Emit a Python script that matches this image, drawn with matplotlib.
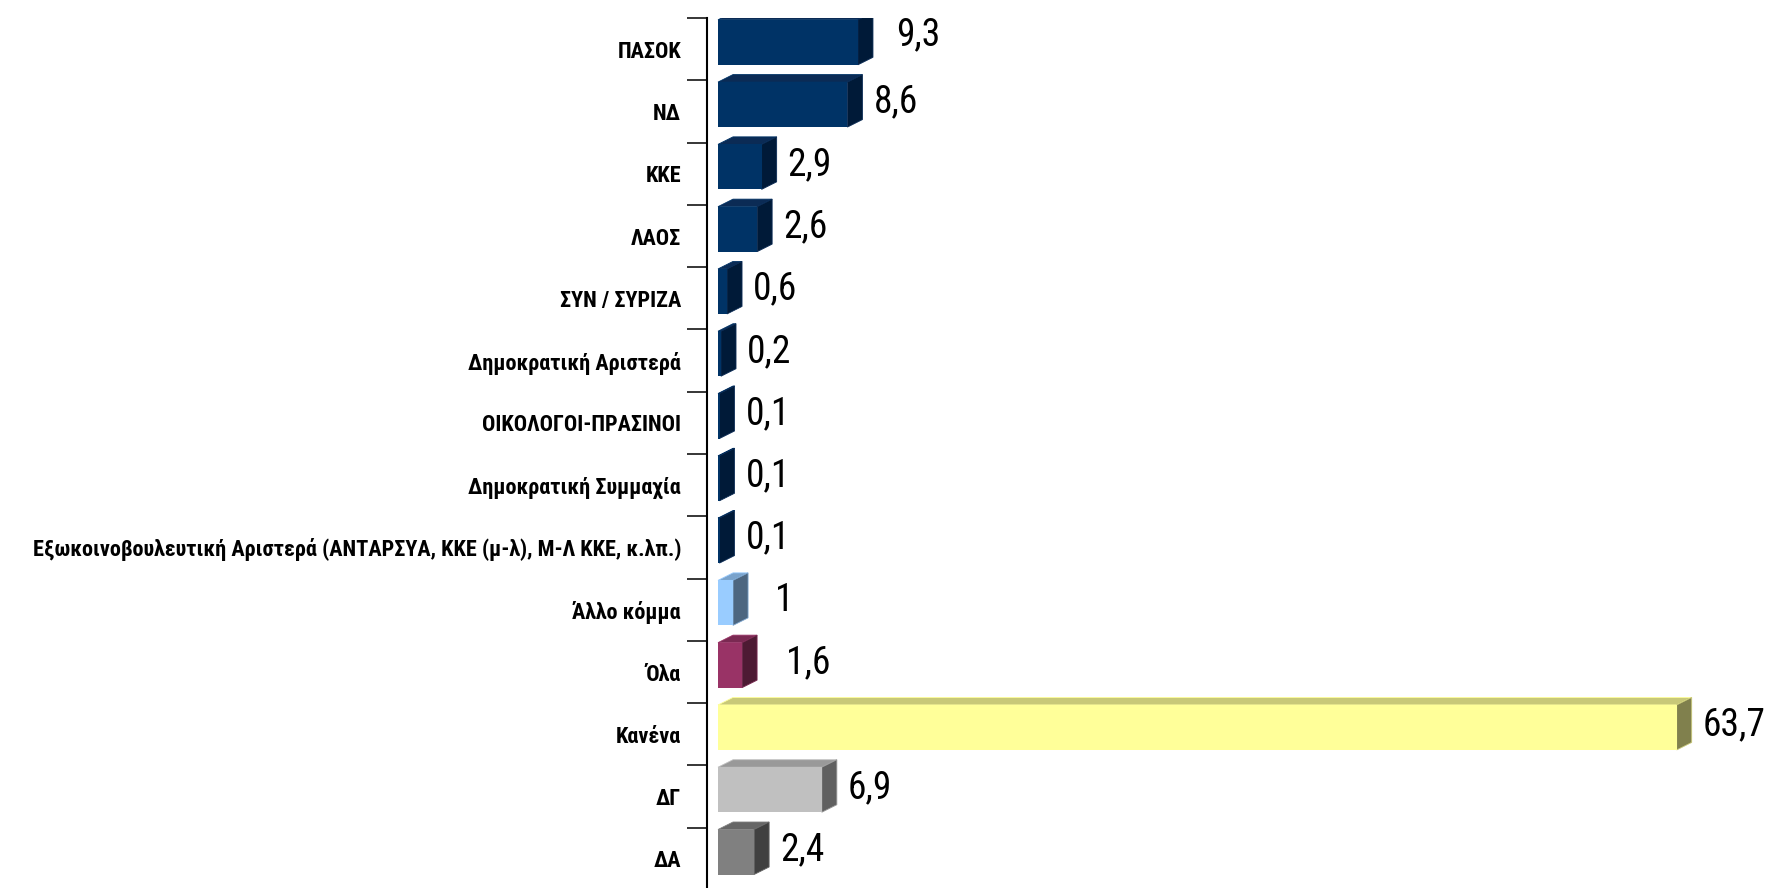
import matplotlib
matplotlib.use("Agg")
from matplotlib import pyplot as plt

# survey data (percent)
parties = ["ΠΑΣΟΚ", "ΝΔ", "ΚΚΕ", "ΛΑΟΣ", "ΣΥΝ / ΣΥΡΙΖΑ",
           "Δημοκρατική Αριστερά", "ΟΙΚΟΛΟΓΟΙ-ΠΡΑΣΙΝΟΙ",
           "Δημοκρατική Συμμαχία",
           "Εξωκοινοβουλευτική Αριστερά (ΑΝΤΑΡΣΥΑ, ΚΚΕ (μ-λ), Μ-Λ ΚΚΕ, κ.λπ.)",
           "Άλλο κόμμα", "Όλα", "Κανένα", "ΔΓ", "ΔΑ"]
values = [9.3, 8.6, 2.9, 2.6, 0.6, 0.2, 0.1, 0.1, 0.1, 1, 1.6, 63.7, 6.9, 2.4]
value_labels = ["9,3", "8,6", "2,9", "2,6", "0,6", "0,2", "0,1", "0,1", "0,1",
                "1", "1,6", "63,7", "6,9", "2,4"]

# front, side, top colours for each bar
navy = ("#003366", "#001a38", "#0b2b55")
palette = [navy] * 9 + [("#99ccff", "#4d6680", "#7aa3cc"),
                        ("#993366", "#4d1a33", "#7a2952"),
                        ("#ffff99", "#80804d", "#c8c878"),
                        ("#c0c0c0", "#606060", "#999999"),
                        ("#808080", "#404040", "#666666")]
# a few labels sit a bit further out in the original (pixels)
label_nudge = {"9,3": (12, 5), "1": (16, 0), "1,6": (18, 0)}
FONT = ["Roboto Condensed", "DejaVu Sans"]

W, H, DPI = 1767, 888, 100
fig = plt.figure(figsize=(W / DPI, H / DPI), dpi=DPI)
ax_left, ax_top, ax_bottom = 707, 18, 890
ax = fig.add_axes([ax_left / W, (H - ax_bottom) / H,
                   (W - ax_left) / W, (ax_bottom - ax_top) / H])

px_per_unit = 15.05
xmin = -(718 - ax_left) / px_per_unit
xmax = (W - 718) / px_per_unit
ax.set_xlim(xmin, xmax)
n = len(parties)
ax.set_ylim(n - 0.5, -0.5)
px_per_cat = (ax_bottom - ax_top) / n

dx = 15 / px_per_unit
dy = 7.5 / px_per_cat
h = 45 / px_per_cat
shift = -0.11

ys = [i + shift for i in range(n)]
fronts = [c[0] for c in palette]
ax.barh(ys, values, height=h, left=0, color=fronts, edgecolor="none", zorder=3)

for i, v in enumerate(values):
    yt = ys[i] - h / 2
    yb = ys[i] + h / 2
    front, side, top = palette[i]
    ax.fill([0, v, v + dx, dx], [yt, yt, yt - dy, yt - dy],
            color=top, lw=0.6, ec=front, zorder=2)
    ax.fill([v, v, v + dx, v + dx], [yt, yb, yb - dy, yt - dy],
            color=side, lw=0.6, ec=top, zorder=2)

    ox, oy = label_nudge.get(value_labels[i], (0, 0))
    ax.text(v + (26 + ox) / px_per_unit, i + 0.02 - oy / px_per_cat,
            value_labels[i], ha="left", va="baseline", fontsize=27,
            family=FONT, zorder=4)

ax.set_yticks(range(n))
ax.set_yticklabels(parties, fontsize=16, fontweight="bold", family=FONT)
ax.set_yticks([i - 0.5 for i in range(n + 1)], minor=True)
ax.tick_params(axis="y", which="major", length=0, pad=18.7)
ax.tick_params(axis="y", which="minor", length=14.4, width=1.1, color="black")
ax.set_xticks([])

for s in ["top", "right", "bottom"]:
    ax.spines[s].set_visible(False)
ax.spines["left"].set_linewidth(1.5)
ax.patch.set_alpha(0)

fig.savefig("out.png", dpi=DPI)
